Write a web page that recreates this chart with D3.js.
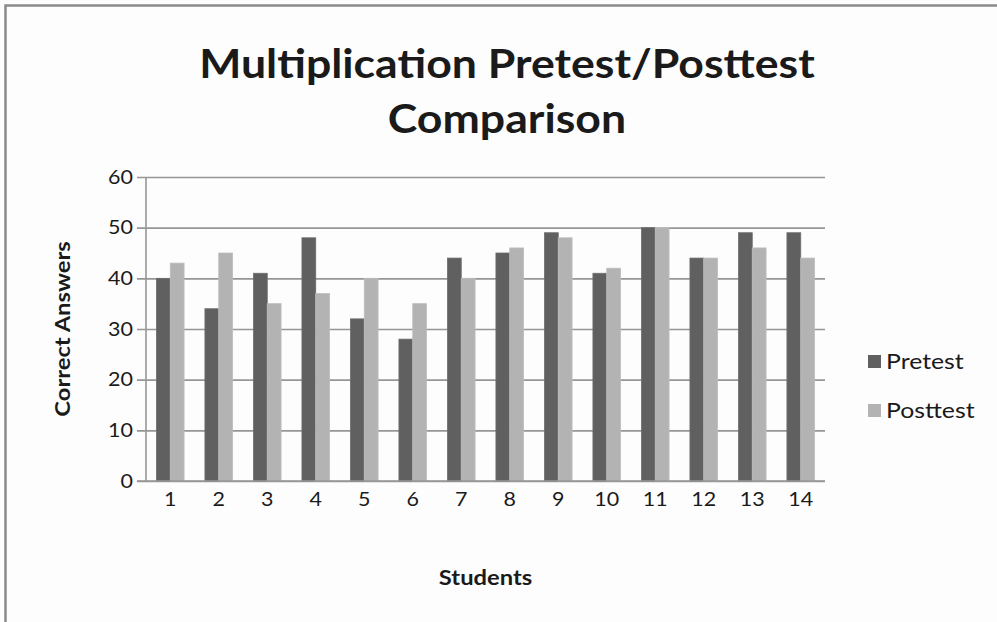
<!DOCTYPE html>
<html>
<head>
<meta charset="utf-8">
<script src="https://cdn.jsdelivr.net/npm/d3@7"></script>
<style>
  html, body { margin: 0; padding: 0; background: #fdfdfd; overflow: hidden; }
  svg { display: block; }
  text { font-family: Lato, "Open Sans", "DejaVu Sans", sans-serif; fill: #1a1a1a; }
</style>
</head>
<body>
<script>
// Scores per student
const students = ["1","2","3","4","5","6","7","8","9","10","11","12","13","14"];
const pretest  = [40, 34, 41, 48, 32, 28, 44, 45, 49, 41, 50, 44, 49, 49];
const posttest = [43, 45, 35, 37, 40, 35, 40, 46, 48, 42, 50, 44, 46, 44];
const seriesNames = ["Pretest", "Posttest"];
const seriesColors = ["#606060", "#b3b3b3"];
const yTicks = [0, 10, 20, 30, 40, 50, 60];
const titleLines = ["Multiplication Pretest/Posttest", "Comparison"];

const W = 997, H = 622;
const plot = { left: 146, right: 825, top: 177, bottom: 481 };
const FONT = "Lato, 'Open Sans', sans-serif";
const STRETCH = 1.13; // wide-set lettering

// widen a text selection horizontally by a fixed factor
function widen(sel, k = STRETCH) {
  sel.each(function () {
    const w = this.getComputedTextLength();
    d3.select(this).attr("textLength", w * k).attr("lengthAdjust", "spacingAndGlyphs");
  });
}

const svg = d3.select("body").append("svg").attr("width", W).attr("height", H);

// chart frame: top and left edges (the rest lies outside the view)
svg.append("path")
  .attr("d", `M5.5,${H}V5.5H${W}`)
  .attr("fill", "none").attr("stroke", "#8a8a8a").attr("stroke-width", 2.5);

const x = d3.scaleBand().domain(students).range([plot.left, plot.right])
  .paddingInner(0.43).paddingOuter(0.215);
const xs = d3.scaleBand().domain(seriesNames).range([0, x.bandwidth()]);
const y = d3.scaleLinear().domain([0, 60]).range([plot.bottom, plot.top]);

// gridlines + y tick labels
const yAxis = d3.axisLeft(y).tickValues(yTicks).tickSize(plot.right - plot.left + 9).tickPadding(6);
const gy = svg.append("g").attr("transform", `translate(${plot.right},0)`).call(yAxis);
gy.select(".domain").remove();
gy.selectAll(".tick line").attr("stroke", "#969696").attr("stroke-width", 1.6);
gy.selectAll(".tick text")
  .attr("x", -(plot.right - plot.left) - 13)
  .attr("font-size", 19).attr("fill", "#1a1a1a")
  .style("font-family", FONT)
  .call(widen);

// bars
const data = students.map((s, i) => ({ s, vals: [pretest[i], posttest[i]] }));
const groups = svg.append("g").selectAll("g").data(data).join("g")
  .attr("transform", d => `translate(${x(d.s)},0)`);
groups.selectAll("rect").data(d => d.vals.map((v, k) => ({ v, k })))
  .join("rect")
  .attr("x", d => xs(seriesNames[d.k]))
  .attr("width", xs.bandwidth())
  .attr("y", d => y(d.v))
  .attr("height", d => y(0) - y(d.v))
  .attr("fill", d => seriesColors[d.k])
  .attr("stroke", d => d.k === 0 ? "#6e6e6e" : "#bdbdbd")
  .attr("stroke-width", 0.8);

// axis lines
svg.append("line").attr("x1", plot.left).attr("x2", plot.left)
  .attr("y1", plot.top).attr("y2", plot.bottom)
  .attr("stroke", "#969696").attr("stroke-width", 1.6);
const xAxis = d3.axisBottom(x).tickSize(0).tickPadding(12);
const gx = svg.append("g").attr("transform", `translate(0,${plot.bottom})`).call(xAxis);
gx.select(".domain").attr("stroke", "#969696").attr("stroke-width", 1.6)
  .attr("d", `M${plot.left - 9},0H${plot.right}`);
gx.selectAll(".tick text").attr("font-size", 19).attr("fill", "#1a1a1a")
  .style("font-family", FONT)
  .call(widen);

// title
const title = svg.append("g");
titleLines.forEach((t, i) => {
  title.append("text").attr("x", 507).attr("y", 78 + i * 55)
    .attr("text-anchor", "middle").attr("font-size", 40).attr("font-weight", "bold")
    .attr("fill", "#000").text(t)
    .call(widen, 1.115);
});

// axis titles
svg.append("text").attr("x", (plot.left + plot.right) / 2).attr("y", 585).attr("text-anchor", "middle")
  .attr("font-size", 21).attr("font-weight", "bold").text("Students")
  .call(widen);
svg.append("text").attr("transform", `translate(70,${(plot.top + plot.bottom) / 2}) rotate(-90)`)
  .attr("text-anchor", "middle")
  .attr("font-size", 21).attr("font-weight", "bold").text("Correct Answers")
  .call(widen);

// legend
const legend = svg.append("g").selectAll("g").data(seriesNames).join("g")
  .attr("transform", (d, i) => `translate(868,${355 + i * 49})`);
legend.append("rect").attr("width", 13).attr("height", 13)
  .attr("fill", (d, i) => seriesColors[i]);
legend.append("text").attr("x", 18).attr("y", 14).attr("font-size", 21).text(d => d)
  .call(widen, 1.18);
</script>
</body>
</html>
